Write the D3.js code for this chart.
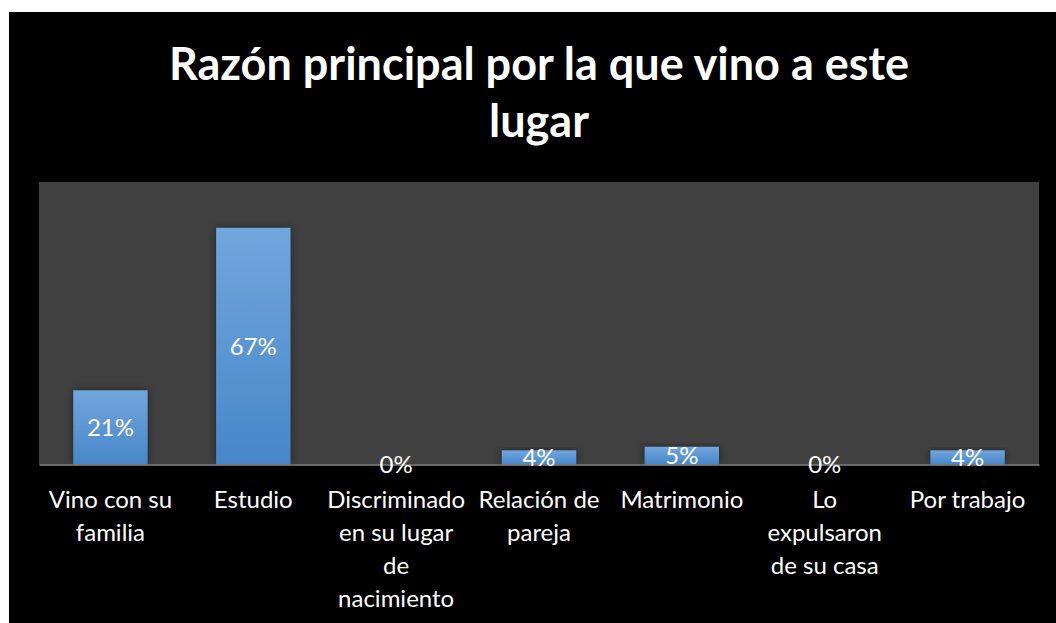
<!DOCTYPE html>
<html>
<head>
<meta charset="utf-8">
<script src="https://cdn.jsdelivr.net/npm/d3@7"></script>
<style>
  body { margin: 0; background: #fff; }
  svg { display: block; }
  text { font-family: Lato, "Open Sans", sans-serif; fill: #fff; }
</style>
</head>
<body>
<div id="chart"></div>
<script>
// Chart data
const categories = ["Vino con su familia", "Estudio", "Discriminado en su lugar de nacimiento",
  "Relación de pareja", "Matrimonio", "Lo expulsaron de su casa", "Por trabajo"];
const values = [0.21, 0.67, 0, 0.04, 0.05, 0, 0.04];
const titleLines = ["Razón principal por la que vino a este", "lugar"];

const svgWidth = 1056;
const svgHeight = 623;

// plot area inside the black chart box
const plot = { left: 39, right: 1039, top: 182, bottom: 464.5 };

const svg = d3.select("#chart")
  .append("svg")
  .attr("width", svgWidth)
  .attr("height", svgHeight);

// gradient + shadow for bars
const defs = svg.append("defs");
const grad = defs.append("linearGradient")
  .attr("id", "barGrad")
  .attr("x1", 0).attr("y1", 0).attr("x2", 0).attr("y2", 1);
grad.append("stop").attr("offset", "0%").attr("stop-color", "#71a6dd");
grad.append("stop").attr("offset", "100%").attr("stop-color", "#4787c9");

const shadow = defs.append("filter")
  .attr("id", "shadow")
  .attr("x", "-20%").attr("y", "-20%").attr("width", "140%").attr("height", "140%");
shadow.append("feDropShadow")
  .attr("dx", 0).attr("dy", 0)
  .attr("stdDeviation", 4)
  .attr("flood-color", "#000")
  .attr("flood-opacity", 0.45);

// black chart background
svg.append("rect")
  .attr("x", 9).attr("y", 12)
  .attr("width", svgWidth - 9).attr("height", svgHeight - 12)
  .attr("fill", "#000");

// plot background
svg.append("rect")
  .attr("x", plot.left).attr("y", plot.top)
  .attr("width", plot.right - plot.left).attr("height", plot.bottom - plot.top)
  .attr("fill", "#404040");

// scales
const x = d3.scaleBand()
  .domain(categories)
  .range([plot.left, plot.right])
  .paddingInner(0.48)
  .paddingOuter(0.24);

const y = d3.scaleLinear()
  .domain([0, 0.8])
  .range([plot.bottom, plot.top]);

// title
svg.append("text")
  .attr("x", (plot.left + plot.right) / 2)
  .attr("y", 80)
  .attr("text-anchor", "middle")
  .style("font-size", "45px")
  .style("font-weight", "bold")
  .selectAll("tspan")
  .data(titleLines)
  .enter()
  .append("tspan")
  .attr("x", (plot.left + plot.right) / 2)
  .attr("dy", (d, i) => i === 0 ? 0 : 57)
  .text(d => d);

// bars
svg.append("g")
  .selectAll("rect")
  .data(values)
  .enter()
  .append("rect")
  .attr("x", (d, i) => x(categories[i]))
  .attr("y", d => y(d))
  .attr("width", x.bandwidth())
  .attr("height", d => y(0) - y(d))
  .attr("fill", "url(#barGrad)")
  .attr("filter", d => d > 0 ? "url(#shadow)" : null);

// axis line
const xAxis = svg.append("g")
  .attr("transform", `translate(0, ${plot.bottom})`)
  .call(d3.axisBottom(x).tickSize(0).tickFormat(""));
xAxis.select(".domain").attr("stroke", "#868686").attr("stroke-width", 1.5);

// data labels, centred in the bar
const fmt = d3.format(".0%");
svg.append("g")
  .selectAll("text")
  .data(values)
  .enter()
  .append("text")
  .attr("x", (d, i) => x(categories[i]) + x.bandwidth() / 2)
  .attr("y", d => (y(d) + y(0)) / 2)
  .attr("dy", "0.35em")
  .attr("text-anchor", "middle")
  .style("font-size", "24px")
  .text(d => fmt(d));

// category labels, wrapped to the band step
function wrapWords(label, maxWidth, size) {
  const probe = svg.append("text").style("font-size", size + "px");
  const words = label.split(" ");
  const lines = [];
  let line = [];
  words.forEach(w => {
    line.push(w);
    probe.text(line.join(" "));
    if (probe.node().getComputedTextLength() > maxWidth && line.length > 1) {
      line.pop();
      lines.push(line.join(" "));
      line = [w];
    }
  });
  lines.push(line.join(" "));
  probe.remove();
  return lines;
}

const catGroup = svg.append("g");
categories.forEach(c => {
  const lines = wrapWords(c, x.step() - 4, 24);
  const t = catGroup.append("text")
    .attr("text-anchor", "middle")
    .attr("y", 508)
    .style("font-size", "24px");
  lines.forEach((l, i) => {
    t.append("tspan")
      .attr("x", x(c) + x.bandwidth() / 2)
      .attr("dy", i === 0 ? 0 : 33)
      .text(l);
  });
});
</script>
</body>
</html>
